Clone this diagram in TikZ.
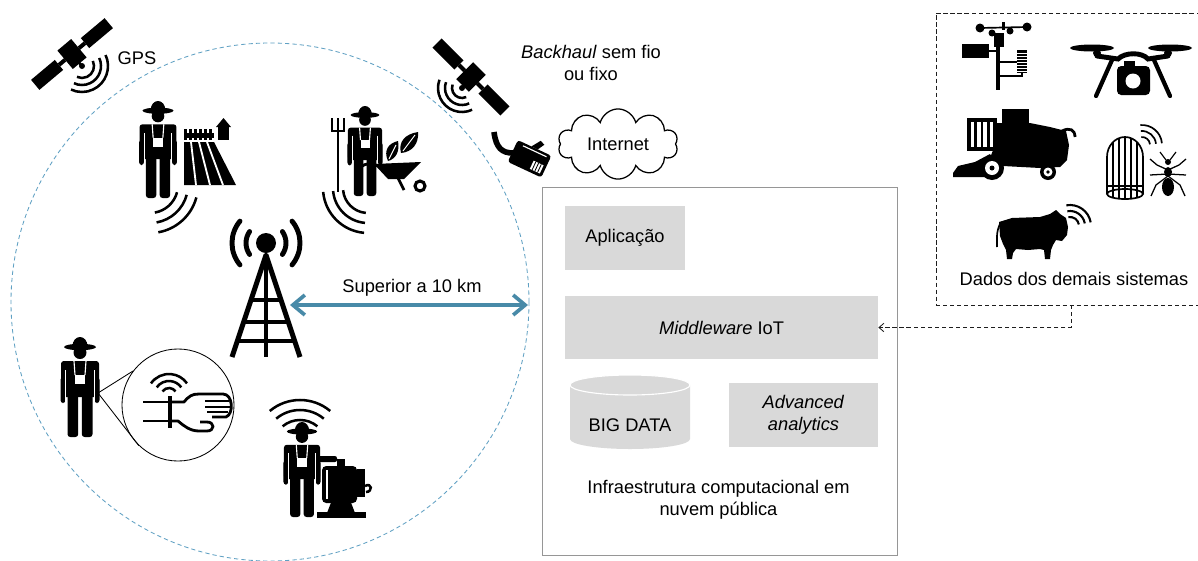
\documentclass[tikz,border=0pt]{standalone}
\usepackage{fontspec}
\setmainfont{Liberation Sans}
\usepackage{tikz}
\usetikzlibrary{arrows.meta,calc,shapes.symbols}
\definecolor{figline}{RGB}{30,30,30}
\definecolor{figcirc}{RGB}{95,160,195}
\definecolor{figseta}{RGB}{72,138,168}
\definecolor{figbox}{RGB}{217,217,217}
\definecolor{figedge}{RGB}{150,150,150}
\tikzset{
  lab/.style  ={font=\fontsize{13}{15.6}\selectfont, inner sep=1pt},
  cx/.style   ={lab, fill=figbox, inner sep=0pt, minimum height=1.575cm},
  infra/.style={draw=figedge, line width=0.6pt, minimum width=8.875cm, minimum height=9.2cm},
  dbox/.style ={draw=figline, line width=0.6pt, dash pattern=on 3pt off 2pt, minimum width=6.6cm, minimum height=7.3cm},
  raio/.style ={draw=figcirc, line width=0.6pt, dash pattern=on 3pt off 2.2pt},
  seta/.style ={draw=figseta, line width=2.6pt, {Straight Barb[length=0.3cm,width=0.5cm]}-{Straight Barb[length=0.3cm,width=0.5cm]}},
  dseta/.style={draw=figline, line width=0.6pt, dash pattern=on 3pt off 2pt, -{Straight Barb[length=3.5pt,width=6pt]}},
  onda/.style ={line width=1.8pt},
  ondag/.style={line width=3.5pt, line cap=round},
  agricultor/.pic={
    \fill (-7.5,9) arc[start angle=180,end angle=360,x radius=7.5,y radius=9] -- cycle;
    \fill (0,10) ellipse[x radius=16,y radius=3.2];
    \fill (0,15.5) circle[radius=6.5];
    \fill[rounded corners=2pt] (-19,24) rectangle (19,60);
    \fill[rounded corners=2pt] (-12.5,50) rectangle (-1.8,100);
    \fill[rounded corners=2pt] (1.8,50) rectangle (12.5,100);
    \fill[rounded corners=2pt] (-19.5,40) rectangle (-14.5,66);
    \fill[rounded corners=2pt] (14.5,40) rectangle (19.5,66);
    \draw[white, line width=0.9pt] (-14.2,33) -- (-14.2,67);
    \draw[white, line width=0.9pt] (14.2,33) -- (14.2,67);
    \fill[white] (-5,38) rectangle (5,47);
    \draw[white, line width=0.8pt] (-6,24) -- (-5,38);
    \draw[white, line width=0.8pt] (6,24) -- (5,38);
  },
  satelite/.pic={
    \fill (-48,-6.5) rectangle (-17,6.5);
    \fill (-17,-2) rectangle (-9,2);
    \fill (-9,-12) rectangle (9,12);
    \fill (9,-2) rectangle (17,2);
    \fill (17,-6.5) rectangle (48,6.5);
  },
}

\begin{document}
\begin{tikzpicture}[x=0.025cm, y=-0.025cm]
  \useasboundingbox (0,0) rectangle (1198,560);
  \fill[white] (0,0) rectangle (1198,560);

  \draw[raio] (270,302) circle[radius=259];

  \pic[rotate=40] at (72,54) {satelite};
  \draw[line width=1.8pt] (74,57) -- (82,66);
  \fill (82,66) circle[radius=3];
  \draw[onda] (82,66) ++(-25:12) arc[start angle=-25,end angle=115,radius=12];
  \draw[onda] (82,66) ++(-25:19) arc[start angle=-25,end angle=115,radius=19];
  \draw[onda] (82,66) ++(-25:26) arc[start angle=-25,end angle=115,radius=26];
  \node[lab] (gps) at (137,58) {GPS};

  \pic[scale=0.97] at (158,101) {agricultor};
  \fill (184,133) rectangle (214,138);
  \fill (184,129) rectangle (186.5,140);
  \fill (189,129) rectangle (191.5,140);
  \fill (194,129) rectangle (196.5,140);
  \fill (199,129) rectangle (201.5,140);
  \fill (204,129) rectangle (206.5,140);
  \fill (209,129) rectangle (211.5,140);
  \fill (216,127) -- (223.5,118) -- (231,127) -- cycle;
  \fill (218,126) rectangle (229,140);
  \fill (184,142) -- (214,142) -- (236,185) -- (184,185) -- cycle;
  \draw[white, line width=1.3pt] (191,142) -- (196,185);
  \draw[white, line width=1.3pt] (199,142) -- (210,185);
  \draw[white, line width=1.3pt] (207,142) -- (223,185);
  \draw[onda] (150,185) ++(15:28) arc[start angle=15,end angle=80,radius=28];
  \draw[onda] (150,185) ++(15:38) arc[start angle=15,end angle=80,radius=38];
  \draw[onda] (150,185) ++(15:48) arc[start angle=15,end angle=80,radius=48];

  \pic[scale=0.9] at (365,106) {agricultor};
  \draw[line width=2pt] (338,132) -- (338,192);
  \draw[line width=1.6pt] (332,118) -- (332,131) -- (344,131) -- (344,118);
  \draw[line width=1.6pt] (338,118) -- (338,131);
  \fill (388,161) .. controls (383,150) and (389,143) .. (398,141) .. controls (400,151) and (396,159) .. (388,161);
  \fill (401,153) .. controls (398,142) and (405,134) .. (418,132) .. controls (419,144) and (412,152) .. (401,153);
  \draw[white, line width=0.7pt] (389,159) -- (396,145);
  \draw[white, line width=0.7pt] (403,151) -- (415,135);
  \draw[line width=2pt] (360,168) .. controls (366,162) and (372,163) .. (378,166);
  \fill (374,164) -- (421,162) -- (404,179) -- (388,179) -- cycle;
  \draw[line width=2pt] (398,178) -- (404,190);
  \draw[line width=2.2pt] (420,186) circle[radius=5];
  \draw[onda] (368,188) ++(95:25) arc[start angle=95,end angle=175,radius=25];
  \draw[onda] (368,188) ++(95:35) arc[start angle=95,end angle=175,radius=35];
  \draw[onda] (368,188) ++(95:45) arc[start angle=95,end angle=175,radius=45];

  \fill (266,243) circle[radius=10];
  \draw[ondag] (266,243) ++(140:34) arc[start angle=140,end angle=220,radius=34];
  \draw[ondag] (266,243) ++(145:20) arc[start angle=145,end angle=215,radius=20];
  \draw[ondag] (266,243) ++(-40:34) arc[start angle=-40,end angle=40,radius=34];
  \draw[ondag] (266,243) ++(-35:20) arc[start angle=-35,end angle=35,radius=20];
  \draw[line width=3.5pt, line join=round] (232,357) -- (266,255) -- (300,357);
  \draw[line width=3.5pt] (266,255) -- (266,357);
  \draw[line width=3.5pt] (251,300) -- (281,300);
  \draw[line width=3.5pt] (243,322) -- (289,322);
  \draw[line width=3.5pt] (237,341) -- (295,341);

  \coordinate (torre) at (290,305);
  \coordinate (borda) at (528,305);
  \draw[seta] (torre) -- (borda);
  \node[lab] (dist) at (412,288) {Superior a 10 km};

  \pic at (80,337) {agricultor};
  \node[draw, circle, line width=0.6pt, minimum size=2.8cm] (lupa) at (178,405) {};
  \coordinate (mao) at (98,393);
  \draw[line width=0.6pt] (mao) -- (lupa.143);
  \draw[line width=0.6pt] (mao) -- (lupa.226);
  \draw[line width=2pt] (143,402) -- (170,402);
  \draw[line width=2pt] (143,421) -- (170,421);
  \draw[line width=2pt, line join=round] (170,402) -- (184,402) .. controls (189,396) and (192,394) .. (199,394) -- (223,394) .. controls (233,394) and (234,414) .. (226,417) -- (212,417);
  \draw[line width=2pt, line join=round] (170,421) -- (178,421) .. controls (184,426) and (190,431) .. (199,431) -- (207,431) .. controls (215,431) and (215,422) .. (207,422) -- (200,422);
  \draw[line width=1.6pt] (205,401) -- (229,401);
  \draw[line width=1.6pt] (205,407) -- (230,407);
  \draw[line width=1.6pt] (207,412) -- (228,412);
  \draw[line width=3pt] (170,396) -- (170,428);
  \draw[onda] (169,396) ++(215:8) arc[start angle=215,end angle=325,radius=8];
  \draw[onda] (169,396) ++(215:15) arc[start angle=215,end angle=325,radius=15];
  \draw[onda] (169,396) ++(215:22) arc[start angle=215,end angle=325,radius=22];

  \pic[scale=0.95] at (302,422) {agricultor};
  \fill[rounded corners=1.5pt] (316,456) rectangle (337,462);
  \fill (317,512) rectangle (366,518);
  \fill (327,513) -- (332,500) -- (350,500) -- (355,513) -- cycle;
  \fill[rounded corners=3pt] (322,466) rectangle (357,503);
  \fill (337,459) rectangle (345,467);
  \fill (357,469) rectangle (365,497);
  \draw[line width=1.8pt] (365,486) .. controls (372,482) and (373,492) .. (366,492);
  \draw[white, line width=1pt] (327,470) -- (327,499);
  \draw[onda] (300,447) ++(230:27) arc[start angle=230,end angle=310,radius=27];
  \draw[onda] (300,447) ++(230:37) arc[start angle=230,end angle=310,radius=37];
  \draw[onda] (300,447) ++(230:47) arc[start angle=230,end angle=310,radius=47];

  \pic[rotate=-45] at (471,77) {satelite};
  \draw[line width=1.8pt] (470,80) -- (462,88);
  \fill (462,88) circle[radius=3];
  \draw[onda] (462,88) ++(65:10) arc[start angle=65,end angle=200,radius=10];
  \draw[onda] (462,88) ++(65:17) arc[start angle=65,end angle=200,radius=17];
  \draw[onda] (462,88) ++(65:24) arc[start angle=65,end angle=200,radius=24];
  \node[lab, align=center] (backhaul) at (591,63) {\textit{Backhaul} sem fio\\ou fixo};

  \draw[line width=4pt] (494,132) .. controls (496,148) and (502,153) .. (513,153);
  \begin{scope}[shift={(530,159)}, rotate=-25]
    \fill[rounded corners=2pt] (-19,-12) rectangle (18,12);
    \fill (-4,-12) -- (2,-21) -- (7,-19) -- (3,-12) -- cycle;
    \draw[white, line width=0.8pt] (-12,-9) -- (14,-9);
    \fill[white] (4,0) rectangle (15,9);
    \draw[line width=0.6pt] (6.5,0) -- (6.5,9);
    \draw[line width=0.6pt] (9.5,0) -- (9.5,9);
    \draw[line width=0.6pt] (12.5,0) -- (12.5,9);
  \end{scope}
  \node[cloud, cloud puffs=10, aspect=1.8, draw, line width=0.9pt, fill=white, minimum width=3cm, minimum height=1.65cm, lab] (internet) at (618,144) {Internet};

  \node[infra] (infra) at (719.5,371) {};
  \node[cx, minimum width=3cm] (app) at (625,238) {Aplicação};
  \node[cx, minimum width=7.825cm] (mw) at (721.5,327.5) {\textit{Middleware} IoT};
  \node[cx, align=center, minimum width=3.725cm, minimum height=1.6cm] (aa) at (803.5,415) {\textit{Advanced}\\\textit{analytics}};
  \fill[figbox] (570,385) -- (570,439) arc[start angle=180,end angle=0,x radius=60,y radius=10] -- (690,385) arc[start angle=0,end angle=-180,x radius=60,y radius=10] -- cycle;
  \draw[white, line width=0.8pt] (630,385) ellipse[x radius=60,y radius=10];
  \node[lab] (bd) at (630,425) {BIG DATA};
  \node[lab, align=center] (nuvem) at (718.5,500) {Infraestrutura computacional em\\nuvem pública};

  \node[dbox] (outros) at (1068,159) {};
  \draw[line width=2.8pt] (998,36) -- (998,90);
  \fill (962,44) rectangle (989,58);
  \draw[line width=1.5pt] (989,51) -- (998,51);
  \fill (994,33) rectangle (1004,47);
  \draw[line width=1.2pt] (980,28) -- (1027,27);
  \fill (980,28) circle[radius=4.5];
  \fill (992,33) circle[radius=3.5];
  \fill (1010,31) circle[radius=3.5];
  \fill (1027,27) circle[radius=4.5];
  \fill (1002,22) rectangle (1005,30);
  \fill (1017,50) rectangle (1027,73);
  \draw[white, line width=0.6pt] (1017,53) -- (1027,53);
  \draw[white, line width=0.6pt] (1017,56) -- (1027,56);
  \draw[white, line width=0.6pt] (1017,59) -- (1027,59);
  \draw[white, line width=0.6pt] (1017,62) -- (1027,62);
  \draw[white, line width=0.6pt] (1017,65) -- (1027,65);
  \draw[white, line width=0.6pt] (1017,68) -- (1027,68);
  \draw[white, line width=0.6pt] (1017,71) -- (1027,71);
  \draw[line width=1.5pt] (998,62) -- (1017,62);
  \draw[line width=1.5pt] (998,76) -- (1022,76) -- (1022,73);

  \fill (1092,48) ellipse[x radius=22,y radius=3.5];
  \fill (1170,48) ellipse[x radius=22,y radius=3.5];
  \fill (1097,53) circle[radius=4];
  \fill (1168,53) circle[radius=4];
  \draw[line width=3.5pt, line cap=round] (1097,56) -- (1118,59) .. controls (1125,52) and (1142,52) .. (1148,59) -- (1168,56);
  \draw[line width=3pt, line cap=round] (1112,60) -- (1096,96);
  \draw[line width=3pt, line cap=round] (1154,60) -- (1170,96);
  \fill (1124,61) rectangle (1135,68);
  \fill[rounded corners=3pt] (1117,66) rectangle (1150,95);
  \fill[white] (1133,81) circle[radius=7.5];

  \draw[line width=2.2pt] (969,120) rectangle (995,149);
  \draw[line width=1.5pt] (975.5,120) -- (975.5,149);
  \draw[line width=1.5pt] (982,120) -- (982,149);
  \draw[line width=1.5pt] (988.5,120) -- (988.5,149);
  \fill (1002,109) rectangle (1029,124);
  \fill (995,123) -- (1030,123) -- (1050,127) -- (1066,131) -- (1069,145) -- (1067,160) -- (1060,167) -- (1040,168) -- (1003,166) -- (990,158) -- (995,145) -- cycle;
  \draw[line width=2pt] (1062,131) .. controls (1070,127) and (1075,130) .. (1075,137);
  \fill (953,173) -- (958,166) -- (975,162) -- (990,154) -- (996,164) -- (990,177) -- (953,177) -- cycle;
  \fill (992,168) circle[radius=12];
  \fill[white] (992,168) circle[radius=7];
  \fill (992,168) circle[radius=2.5];
  \fill (1048,172) circle[radius=8];
  \fill[white] (1048,172) circle[radius=4.5];
  \fill (1048,172) circle[radius=1.8];

  \draw[line width=1.2pt] (1107,194) -- (1107,157) arc[start angle=180,end angle=360,x radius=18,y radius=20] -- (1143,194);
  \draw[line width=1.2pt] (1125,194) ellipse[x radius=18,y radius=5];
  \draw[line width=0.8pt] (1113,142) -- (1113,198);
  \draw[line width=0.8pt] (1119,138) -- (1119,199);
  \draw[line width=0.8pt] (1125,137) -- (1125,199);
  \draw[line width=0.8pt] (1131,138) -- (1131,199);
  \draw[line width=0.8pt] (1137,142) -- (1137,198);
  \draw[line width=0.8pt] (1107,186) -- (1143,186);
  \draw[line width=1.2pt] (1142,145) ++(265:8) arc[start angle=265,end angle=355,radius=8];
  \draw[line width=1.2pt] (1142,145) ++(265:14) arc[start angle=265,end angle=355,radius=14];
  \draw[line width=1.2pt] (1142,145) ++(265:20) arc[start angle=265,end angle=355,radius=20];
  \fill (1168,162) circle[radius=3];
  \fill (1168,172) ellipse[x radius=4,y radius=5];
  \fill (1168,187) ellipse[x radius=6,y radius=9];
  \draw[line width=0.8pt] (1166,160) -- (1160,152);
  \draw[line width=0.8pt] (1170,160) -- (1176,152);
  \draw[line width=0.9pt] (1168,170) -- (1157,165) -- (1150,159);
  \draw[line width=0.9pt] (1168,170) -- (1179,165) -- (1186,159);
  \draw[line width=0.9pt] (1168,174) -- (1150,175);
  \draw[line width=0.9pt] (1168,174) -- (1186,175);
  \draw[line width=0.9pt] (1168,176) -- (1156,185) -- (1151,196);
  \draw[line width=0.9pt] (1168,176) -- (1180,185) -- (1185,196);

  \fill (999,222) -- (1012,218) -- (1040,217) -- (1050,214) -- (1056,210) -- (1060,214) -- (1066,218) -- (1068,227) -- (1067,235) -- (1062,241) -- (1056,240) -- (1053,245) -- (1051,250) -- (1050,259) -- (1045,259) -- (1044,250) -- (1040,249) -- (1028,250) -- (1016,249) -- (1013,253) -- (1012,259) -- (1007,259) -- (1006,250) -- (1003,244) -- (1000,236) -- cycle;
  \draw[line width=1.2pt] (1000,224) .. controls (996,232) and (997,240) .. (997,247);
  \draw[line width=1.5pt] (1070,226) ++(260:9) arc[start angle=260,end angle=350,radius=9];
  \draw[line width=1.5pt] (1070,226) ++(260:15) arc[start angle=260,end angle=350,radius=15];
  \draw[line width=1.5pt] (1070,226) ++(260:21) arc[start angle=260,end angle=350,radius=21];
  \node[lab] (dados) at (1074,279) {Dados dos demais sistemas};

  \coordinate (dsai) at (1071,305);
  \draw[dseta] (dsai) |- (mw.east);
\end{tikzpicture}
\end{document}
